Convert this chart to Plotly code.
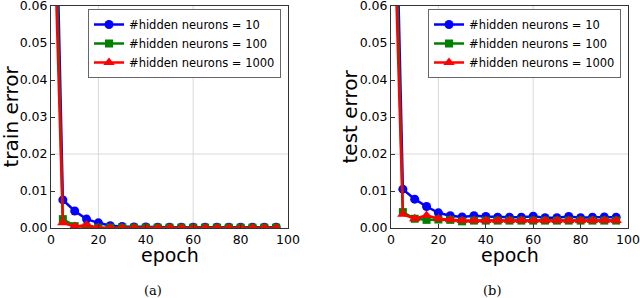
import plotly.graph_objects as go

epochs = [0, 5, 10, 15, 20, 25, 30, 35, 40, 45, 50, 55, 60, 65, 70, 75, 80, 85, 90, 95]

train_10 = [0.15, 0.0076, 0.0046, 0.0024, 0.0014, 0.0006, 0.0004, 0.0003, 0.0003, 0.0002, 0.0002, 0.0002,
            0.0002, 0.0002, 0.0002, 0.0002, 0.0002, 0.0002, 0.0002, 0.0002]
train_100 = [0.13, 0.0024, 0.0005, 0.0002, 0.0001, 0.0001, 0.0001, 0.0001, 0.0001, 0.0001, 0.0001, 0.0001,
             0.0001, 0.0001, 0.0001, 0.0001, 0.0001, 0.0001, 0.0001, 0.0001]
train_1000 = [0.11, 0.0014, 0.0004, 0.0008, 0.0001, 0.0, 0.0, 0.0, 0.0, 0.0, 0.0, 0.0,
              0.0, 0.0, 0.0, 0.0, 0.0, 0.0, 0.0, 0.0]

test_10 = [0.15, 0.0105, 0.0078, 0.0058, 0.0041, 0.0033, 0.0030, 0.0033, 0.0031, 0.0029, 0.0029, 0.0029,
           0.0032, 0.0028, 0.0028, 0.0031, 0.0028, 0.0029, 0.0030, 0.0029]
test_100 = [0.13, 0.0043, 0.0025, 0.0022, 0.0023, 0.0022, 0.0018, 0.0020, 0.0020, 0.0020, 0.0020, 0.0020,
            0.0020, 0.0020, 0.0020, 0.0020, 0.0020, 0.0020, 0.0020, 0.0020]
test_1000 = [0.11, 0.0037, 0.0025, 0.0034, 0.0025, 0.0022, 0.0020, 0.0020, 0.0020, 0.0020, 0.0020, 0.0020,
             0.0020, 0.0020, 0.0020, 0.0020, 0.0020, 0.0020, 0.0020, 0.0020]

names = ["#hidden neurons = 10", "#hidden neurons = 100", "#hidden neurons = 1000"]
colors = ["#0000ff", "#008000", "#ff0000"]
symbols = ["circle", "square", "triangle-up"]
msizes = [9, 8, 10]

x_ticks = [0, 20, 40, 60, 80, 100]
y_ticks = [0.00, 0.01, 0.02, 0.03, 0.04, 0.05, 0.06]
y_tick_text = ["0.00", "0.01", "0.02", "0.03", "0.04", "0.05", "0.06"]

FONT = "DejaVu Sans"
W, H = 640, 298
fig = go.Figure()

panels = [
    ("x", "y", "legend", [train_10, train_100, train_1000]),
    ("x2", "y2", "legend2", [test_10, test_100, test_1000]),
]
for xa, ya, lg, series in panels:
    for i, s in enumerate(series):
        fig.add_trace(go.Scatter(
            x=epochs, y=s, xaxis=xa, yaxis=ya, legend=lg, name=names[i],
            mode="lines+markers",
            line=dict(color=colors[i], width=2.5),
            marker=dict(symbol=symbols[i], size=msizes[i], color=colors[i],
                        line=dict(width=0)),
            cliponaxis=True,
        ))

ydom = [1 - 228 / H, 1 - 6 / H]
axis_common = dict(
    showline=True, mirror=True, linecolor="#333333", linewidth=1,
    ticks="inside", ticklen=4, tickcolor="#333333",
    showgrid=False, zeroline=False, automargin=False,
    ticklabeloverflow="allow",
    tickfont=dict(family=FONT, size=12.5, color="black"),
)
legend_common = dict(
    xanchor="left", yanchor="top", bgcolor="white", bordercolor="#666666", borderwidth=1,
    font=dict(family=FONT, size=11.5, color="black"), tracegroupgap=0, itemwidth=30,
)
fig.update_layout(
    width=W, height=H,
    margin=dict(l=0, r=0, t=0, b=0, autoexpand=False),
    paper_bgcolor="white", plot_bgcolor="white",
    showlegend=True,
    xaxis=dict(domain=[51 / W, 288 / W], range=[0, 100], tickvals=x_ticks, anchor="y", **axis_common),
    yaxis=dict(domain=ydom, range=[0, 0.06], tickvals=y_ticks, ticktext=y_tick_text, anchor="x",
               **axis_common),
    xaxis2=dict(domain=[391 / W, 628 / W], range=[0, 100], tickvals=x_ticks, anchor="y2", **axis_common),
    yaxis2=dict(domain=ydom, range=[0, 0.06], tickvals=y_ticks, ticktext=y_tick_text, anchor="x2",
                **axis_common),
    legend=dict(x=88 / W, y=1 - 9 / H, **legend_common),
    legend2=dict(x=428 / W, y=1 - 9 / H, **legend_common),
)

# light grid lines (only the ones visible in the reference)
for xr, yr in [("x", "y"), ("x2", "y2")]:
    for gx in [20, 60]:
        fig.add_shape(type="line", xref=xr, yref=yr, x0=gx, x1=gx, y0=0, y1=0.06,
                      line=dict(color="#d9d9d9", width=1), layer="below")
    fig.add_shape(type="line", xref=xr, yref=yr, x0=0, x1=100, y0=0.02, y1=0.02,
                  line=dict(color="#d9d9d9", width=1), layer="below")

# axis titles and panel captions
title_specs = [
    ("epoch", 169.5 / W, 1 - 255 / H, 0, 19),
    ("epoch", 509.5 / W, 1 - 255 / H, 0, 19),
    ("train error", 10.5 / W, 1 - 117 / H, -90, 20),
    ("test error", 349.5 / W, 1 - 117 / H, -90, 20),
]
for txt, ax, ay, ang, fs in title_specs:
    fig.add_annotation(text=txt, xref="paper", yref="paper", x=ax, y=ay, textangle=ang,
                       showarrow=False, xanchor="center", yanchor="middle",
                       font=dict(family=FONT, size=fs, color="black"))

for txt, cx in [("(a)", 153), ("(b)", 492)]:
    fig.add_annotation(text=txt, xref="paper", yref="paper", x=cx / W, y=1 - 290 / H,
                       showarrow=False, xanchor="center", yanchor="middle",
                       font=dict(family="DejaVu Serif", size=13, color="black"))

fig.write_html("out.html", config={"displayModeBar": False},
               post_script="document.body.style.margin='0';")
